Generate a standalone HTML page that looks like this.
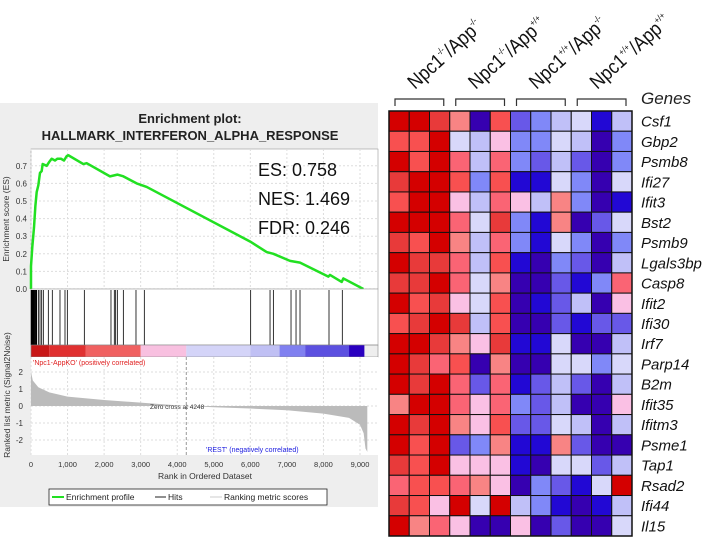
<!DOCTYPE html>
<html><head><meta charset="utf-8">
<style>
html,body{margin:0;padding:0;background:#fff;width:709px;height:537px;overflow:hidden}
svg{display:block;font-family:"Liberation Sans",sans-serif}
</style></head>
<body>
<svg id="c" width="709" height="537" viewBox="0 0 709 537" xmlns="http://www.w3.org/2000/svg">
<rect x="0" y="103" width="378" height="404" fill="#eeeeee"/>
<text x="190" y="123" text-anchor="middle" font-size="13" font-weight="bold" fill="#222">Enrichment plot:</text>
<text x="190" y="140" text-anchor="middle" font-size="13" font-weight="bold" fill="#222">HALLMARK_INTERFERON_ALPHA_RESPONSE</text>
<g id="gsea"></g>
<g id="heat"></g>
</svg>
<script>
// ---- GSEA data ----
const esRanks=[0,0,36,82,119,155,201,246,292,319,429,492,565,657,720,821,903,976,1021,1432,1523,2161,2362,2526,2891,3165,5991,6447,6630,7086,7359,8134,8180,8499,8545,9092];
const esValues=[0,0.13,0.24,0.35,0.47,0.55,0.59,0.66,0.67,0.71,0.70,0.72,0.74,0.73,0.74,0.74,0.73,0.755,0.76,0.71,0.715,0.64,0.65,0.64,0.60,0.58,0.27,0.21,0.20,0.16,0.15,0.07,0.08,0.04,0.06,0.0];
const hitRanks=[5,12,20,28,35,42,50,58,66,75,85,95,110,125,140,155,201,246,292,337,474,583,793,930,994,1459,2188,2279,2316,2362,2526,2872,3100,6009,6539,6630,7113,7250,7359,8152,8516];
const metricRanks=[0,50,200,500,1000,2000,3000,4248,5000,6000,7000,8000,8700,9000,9100,9150,9200];
const metricValues=[2.0,1.5,1.1,0.8,0.55,0.35,0.2,0,-0.07,-0.15,-0.25,-0.45,-0.7,-1.1,-1.6,-2.5,-2.7];
const barStops=[0,500,1500,3000,4248,6000,6800,7500,8700,9120];
const barColors=["#c81818","#e03030","#f06060","#f8c0e0","#d4d4f8","#c0c0f4","#8080f0","#5c50e0","#2a00c0"];
const xTicks=[0,1000,2000,3000,4000,5000,6000,7000,8000,9000];
const xTickLabels=["0","1,000","2,000","3,000","4,000","5,000","6,000","7,000","8,000","9,000"];
const esTicks=[0,0.1,0.2,0.3,0.4,0.5,0.6,0.7];
const metricTicks=[2,1,0,-1,-2];

// ---- Heatmap data ----
const genes=["Csf1","Gbp2","Psmb8","Ifi27","Ifit3","Bst2","Psmb9","Lgals3bp","Casp8","Ifit2","Ifi30","Irf7","Parp14","B2m","Ifit35","Ifitm3","Psme1","Tap1","Rsad2","Ifi44","Il15"];
const heatRows=["RRrpDomblwBl","ooRwlkbbwlDb","RoRslsbmlmDb","rRRoboBBwbDw","oRRklsklpbDB","RRRswrbBpDmw","roRplsbBwbDb","RrrsloBDbmDl","rrRswpDDmBbs","RorkwoDBmlDk","orRrloDDmBmm","RRrpkrBBwDDl","RrsoDpDDwwbw","RrRsmsBmlmDl","pRRsksbmlDDk","RrRpkommwlDl","RoRmbpBBpmDD","roRkkkBDwwml","soospkDbmBwR","rokRwRlbBDBl","RpskDDkDmDDw"];
const levelColors={R:"#d40000",r:"#e83a3a",o:"#f85050",s:"#fa6474",p:"#f88484",k:"#fac0e4",w:"#d8d8fa",l:"#c0c0f8",b:"#8088f8",m:"#6858e8",B:"#2208d4",D:"#3600b0"};
const groupLabels=[["Npc1","-/-","/App","-/-"],["Npc1","-/-","/App","+/+"],["Npc1","+/+","/App","-/-"],["Npc1","+/+","/App","+/+"]];

const NS="http://www.w3.org/2000/svg";
function mk(tag,attrs,parent,text){const e=document.createElementNS(NS,tag);for(const k in attrs)e.setAttribute(k,attrs[k]);if(text!==undefined)e.textContent=text;parent.appendChild(e);return e;}

const X0=31,XPER=329/9000;
const xs=r=>X0+r*XPER;
const esY=v=>289-v*176;
const mY=v=>406-v*17;
const g=document.getElementById('gsea');
let el;

el=mk('rect',{x:X0,y:149,width:347,height:140,fill:'#fff',stroke:'#999','stroke-width':0.6},g);


xTicks.forEach(t=>{mk('line',{x1:xs(t),x2:xs(t),y1:149,y2:289,stroke:'#ddd','stroke-dasharray':'2,2'},g);});
esTicks.forEach(t=>{
 mk('line',{x1:X0,x2:378,y1:esY(t),y2:esY(t),stroke:'#ddd','stroke-dasharray':'2,2'},g);
 el=mk('text',{x:X0-4,y:esY(t)+3,'text-anchor':'end','font-size':8,fill:'#333'},g,t.toFixed(1));
 
 
});
el=mk('text',{transform:'translate(9,219) rotate(-90)','text-anchor':'middle','font-size':8.5,fill:'#333'},g,'Enrichment score (ES)');


el=mk('polyline',{points:esRanks.map((r,i)=>xs(r)+','+esY(esValues[i])).join(' '),fill:'none',stroke:'#22e022','stroke-width':2.5,'stroke-linejoin':'round'},g);


[['ES: 0.758',176],['NES: 1.469',205],['FDR: 0.246',234]].forEach((s,i)=>{
 el=mk('text',{x:258,y:s[1],'font-size':18,fill:'#111'},g,s[0]);
 
 
});

el=mk('rect',{x:X0,y:289,width:347,height:56,fill:'#fff',stroke:'#999','stroke-width':0.6},g);


hitRanks.forEach(r=>{
 el=mk('line',{x1:xs(r),x2:xs(r),y1:290,y2:345,stroke:'#000','stroke-width':0.8},g);
 
 
});
for(let i=0;i<barColors.length;i++){
 el=mk('rect',{x:xs(barStops[i]),y:345,width:xs(barStops[i+1])-xs(barStops[i]),height:12,fill:barColors[i]},g);
 
 
}
mk('rect',{x:X0,y:345,width:347,height:12,fill:'none',stroke:'#888','stroke-width':0.6},g);

el=mk('rect',{x:X0,y:357,width:347,height:98,fill:'#fff'},g);


xTicks.forEach(t=>{mk('line',{x1:xs(t),x2:xs(t),y1:357,y2:455,stroke:'#ddd','stroke-dasharray':'2,2'},g);});
metricTicks.forEach(t=>{
 mk('line',{x1:X0,x2:378,y1:mY(t),y2:mY(t),stroke:'#ddd','stroke-dasharray':'2,2'},g);
 el=mk('text',{x:X0-8,y:mY(t)+3,'text-anchor':'end','font-size':8,fill:'#333'},g,String(t));
 
 
});
let pts=xs(0)+','+mY(0)+' '+metricRanks.map((r,i)=>xs(r)+','+mY(metricValues[i])).join(' ')+' '+xs(9200)+','+mY(0);
el=mk('polygon',{points:pts,fill:'#bbbbbb'},g);


mk('line',{x1:xs(4248),x2:xs(4248),y1:357,y2:455,stroke:'#999','stroke-dasharray':'3,2'},g);
el=mk('text',{x:150,y:409,'font-size':6.5,fill:'#333'},g,'Zero cross at 4248');


el=mk('text',{x:33,y:365,'font-size':7,fill:'#e02020'},g,"'Npc1-AppKO' (positively correlated)");


el=mk('text',{x:206,y:452,'font-size':7,fill:'#2020e0'},g,"'REST' (negatively correlated)");


xTicks.forEach((t,i)=>{
 el=mk('text',{x:xs(t),y:467,'text-anchor':'middle','font-size':7.5,fill:'#333'},g,xTickLabels[i]);
 
 
});
el=mk('text',{x:205,y:479,'text-anchor':'middle','font-size':8.5,fill:'#333'},g,'Rank in Ordered Dataset');


el=mk('text',{transform:'translate(10,395) rotate(-90)','text-anchor':'middle','font-size':8.5,fill:'#333'},g,'Ranked list metric (Signal2Noise)');


el=mk('rect',{x:49,y:489,width:278,height:16,fill:'#fff',stroke:'#222','stroke-width':0.8},g);


mk('line',{x1:52,x2:64,y1:497,y2:497,stroke:'#22e022','stroke-width':2},g);
el=mk('text',{x:66,y:500,'font-size':8.5,fill:'#222'},g,'Enrichment profile');


mk('line',{x1:155,x2:166,y1:497,y2:497,stroke:'#222','stroke-width':1},g);
el=mk('text',{x:168,y:500,'font-size':8.5,fill:'#222'},g,'Hits');


mk('line',{x1:210,x2:222,y1:497,y2:497,stroke:'#ccc','stroke-width':1},g);
el=mk('text',{x:224,y:500,'font-size':8.5,fill:'#222'},g,'Ranking metric scores');



const h=document.getElementById('heat');
const HX=389,HY=111,CW=243/12,CH=425/21;
heatRows.forEach((row,ri)=>{
 for(let ci=0;ci<12;ci++){
  el=mk('rect',{x:HX+ci*CW,y:HY+ri*CH,width:CW,height:CH,fill:levelColors[row[ci]],stroke:'#111','stroke-width':1},h);
  
  
 }
 el=mk('text',{x:641,y:HY+ri*CH+CH/2+5.5,'font-size':15,'font-style':'italic',fill:'#111'},h,genes[ri]);
 
 
});
mk('rect',{x:HX,y:HY,width:243,height:425,fill:'none',stroke:'#111','stroke-width':1.5},h);
el=mk('text',{x:641,y:104,'font-size':17,'font-style':'italic',fill:'#222'},h,'Genes');


groupLabels.forEach((lab,gi)=>{
 const bx=HX+gi*3*CW+6, bw=3*CW-12;
 el=mk('path',{d:`M${bx},106 V99 H${bx+bw} V106`,fill:'none',stroke:'#333','stroke-width':1.2},h);
 
 
 const t=mk('text',{transform:`translate(${bx+20},90) rotate(-42) scale(0.88,1)`,'font-size':20,fill:'#111'},h);
 
 
 mk('tspan',{},t,lab[0]);
 mk('tspan',{'font-size':9,dy:-9},t,lab[1]);
 mk('tspan',{dy:9},t,lab[2]);
 mk('tspan',{'font-size':9,dy:-9},t,lab[3]);
});
</script>
</body></html>
